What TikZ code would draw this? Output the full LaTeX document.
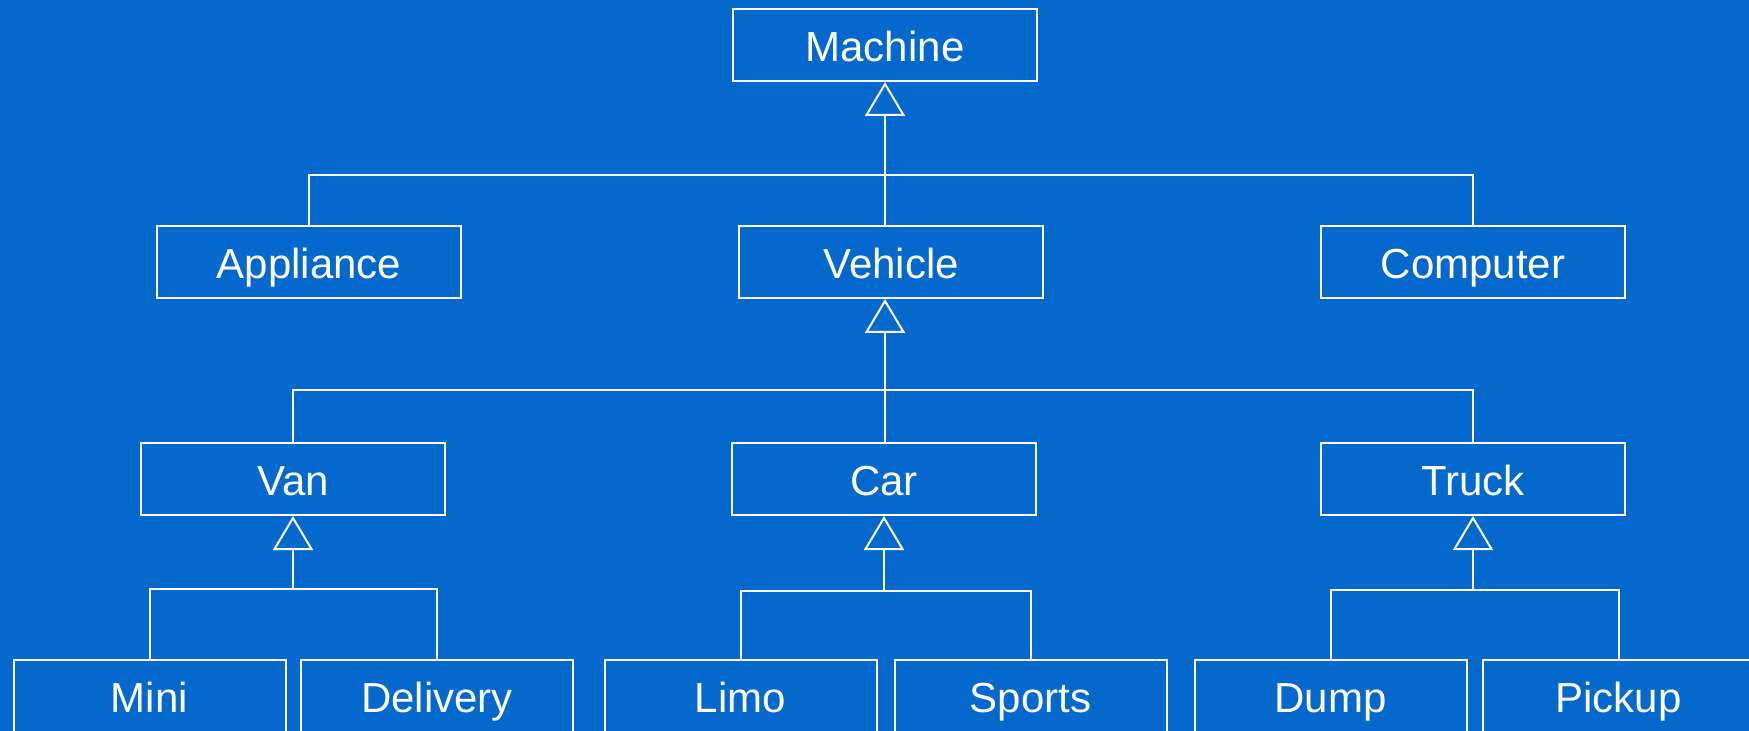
\documentclass[tikz,border=0pt]{standalone}
\usepackage{fontspec}
\setmainfont{Liberation Sans}
\usetikzlibrary{arrows.meta}
\definecolor{umlbg}{HTML}{0468CC}
\definecolor{umlink}{HTML}{FFFFFF}
\tikzset{
  cls/.style={draw=umlink, line width=1pt, text=umlink, minimum width=152pt, minimum height=36pt, inner sep=0pt, text height=18pt, text depth=1.5pt, font=\fontsize{21}{25}\selectfont},
  leaf/.style={cls, minimum width=136pt},
  gen/.style={-{Triangle[open, length=17pt, width=20pt]}, line width=1pt, color=umlink},
  ln/.style={line width=1pt, color=umlink},
}

\begin{document}
\begin{tikzpicture}[x=0.5pt, y=-0.5pt]
    \fill[umlbg] (0,0) rectangle (1749,731);
    \useasboundingbox (0,0) rectangle (1749,731);
    % top level
    \node[cls] (machine) at (885,45) {Machine};
    \node[cls] (appl) at (309,262) {Appliance};
    \node[cls] (veh) at (891,262) {Vehicle};
    \node[cls] (comp) at (1473,262) {Computer};
    \coordinate (jm) at (885,175);
    \draw[gen] (jm) -- (machine.south);
    \draw[ln] (appl.north) |- (jm) -| (comp.north);
    \draw[ln] (jm) -- (veh.north -| jm);
    % vehicles
    \node[cls] (van) at (293,479) {Van};
    \node[cls] (car) at (884,479) {Car};
    \node[cls] (truck) at (1473,479) {Truck};
    \coordinate (jv) at (885,390);
    \draw[gen] (jv) -- (veh.south -| jv);
    \draw[ln] (van.north) |- (jv) -| (truck.north);
    \draw[ln] (jv) -- (car.north -| jv);
    % leaves
    \node[leaf] (mini) at (149.5,696) {Mini};
    \node[leaf] (deliv) at (437,696) {Delivery};
    \node[leaf] (limo) at (740.5,696) {Limo};
    \node[leaf] (sports) at (1030.5,696) {Sports};
    \node[leaf] (dump) at (1330.5,696) {Dump};
    \node[leaf] (pickup) at (1618.5,696) {Pickup};
    \coordinate (jvan) at (293,589);
    \coordinate (jcar) at (884,591);
    \coordinate (jtruck) at (1473,590);
    \draw[gen] (jvan) -- (van.south);
    \draw[gen] (jcar) -- (car.south);
    \draw[gen] (jtruck) -- (truck.south);
    \draw[ln] (mini.north) |- (jvan) -| (deliv.north);
    \draw[ln] (limo.north) |- (jcar) -| (sports.north);
    \draw[ln] (dump.north) |- (jtruck) -| (pickup.north);
\end{tikzpicture}
\end{document}
